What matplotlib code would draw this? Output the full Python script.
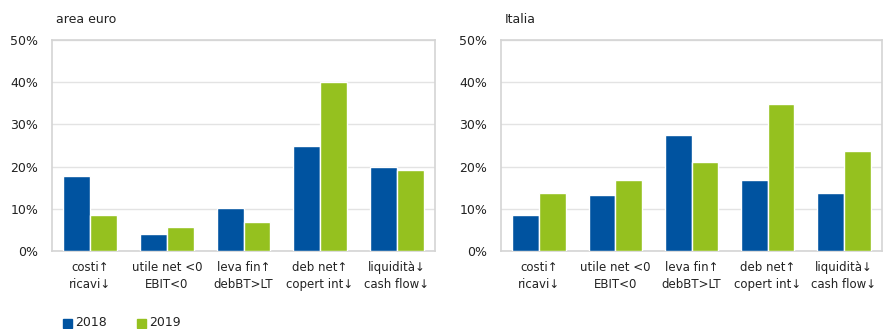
import numpy as np
import matplotlib.pyplot as plt
from matplotlib.patches import Rectangle

categories = ["costi↑\nricavi↓", "utile net <0\nEBIT<0", "leva fin↑\ndebBT>LT",
              "deb net↑\ncopert int↓", "liquidità↓\ncash flow↓"]
euro_2018 = [17.7, 4.1, 10.3, 24.8, 19.9]
euro_2019 = [8.6, 5.8, 6.9, 40.1, 19.1]
ita_2018 = [8.5, 13.2, 27.5, 16.9, 13.7]
ita_2019 = [13.7, 16.9, 21.1, 34.9, 23.7]
years = ["2018", "2019"]

blue = "#0053a0"
green = "#95c11f"
grid_col = "#e3e3e3"

plt.rcParams['font.family'] = ['DejaVu Sans']

fig = plt.figure(figsize=(8.83, 3.29), dpi=100)
ax1 = fig.add_axes([52/883, 1-251/329, 383/883, 211/329])
ax2 = fig.add_axes([501/883, 1-251/329, 381/883, 211/329])

x = np.arange(len(categories))
w = 0.35
for ax, d18, d19, title in [(ax1, euro_2018, euro_2019, "area euro"),
                            (ax2, ita_2018, ita_2019, "Italia")]:
    ax.bar(x - w/2, d18, w, color=blue, edgecolor="white", linewidth=1, zorder=3)
    ax.bar(x + w/2, d19, w, color=green, edgecolor="white", linewidth=1, zorder=3)
    ax.set_xlim(-0.5, len(categories) - 0.5)
    ax.set_ylim(0, 50)
    ax.set_yticks(range(0, 51, 10))
    ax.set_yticklabels([f"{v}%" for v in range(0, 51, 10)], fontsize=9, color="#222222")
    ax.set_xticks(x)
    ax.set_xticklabels(categories, fontsize=8.5, color="#222222", linespacing=1.45)
    ax.tick_params(length=0, pad=7)
    ax.tick_params(axis="y", pad=10)
    ax.grid(axis="y", color=grid_col, linewidth=1, zorder=0)
    for s in ax.spines.values():
        s.set_color("#d4d4d4")
        s.set_linewidth(1.2)
    ax.text(0.01, 1.095, title, transform=ax.transAxes, fontsize=9, color="#222222", va="center")

# legend
fig.patches.append(Rectangle((63/883, 1-328/329), 9/883, 9/329, color=blue, transform=fig.transFigure))
fig.text(75/883, 1-323/329, years[0], fontsize=9, va="center", color="#222222")
fig.patches.append(Rectangle((137/883, 1-328/329), 9/883, 9/329, color=green, transform=fig.transFigure))
fig.text(149/883, 1-323/329, years[1], fontsize=9, va="center", color="#222222")

fig.savefig("out.png", dpi=100)
